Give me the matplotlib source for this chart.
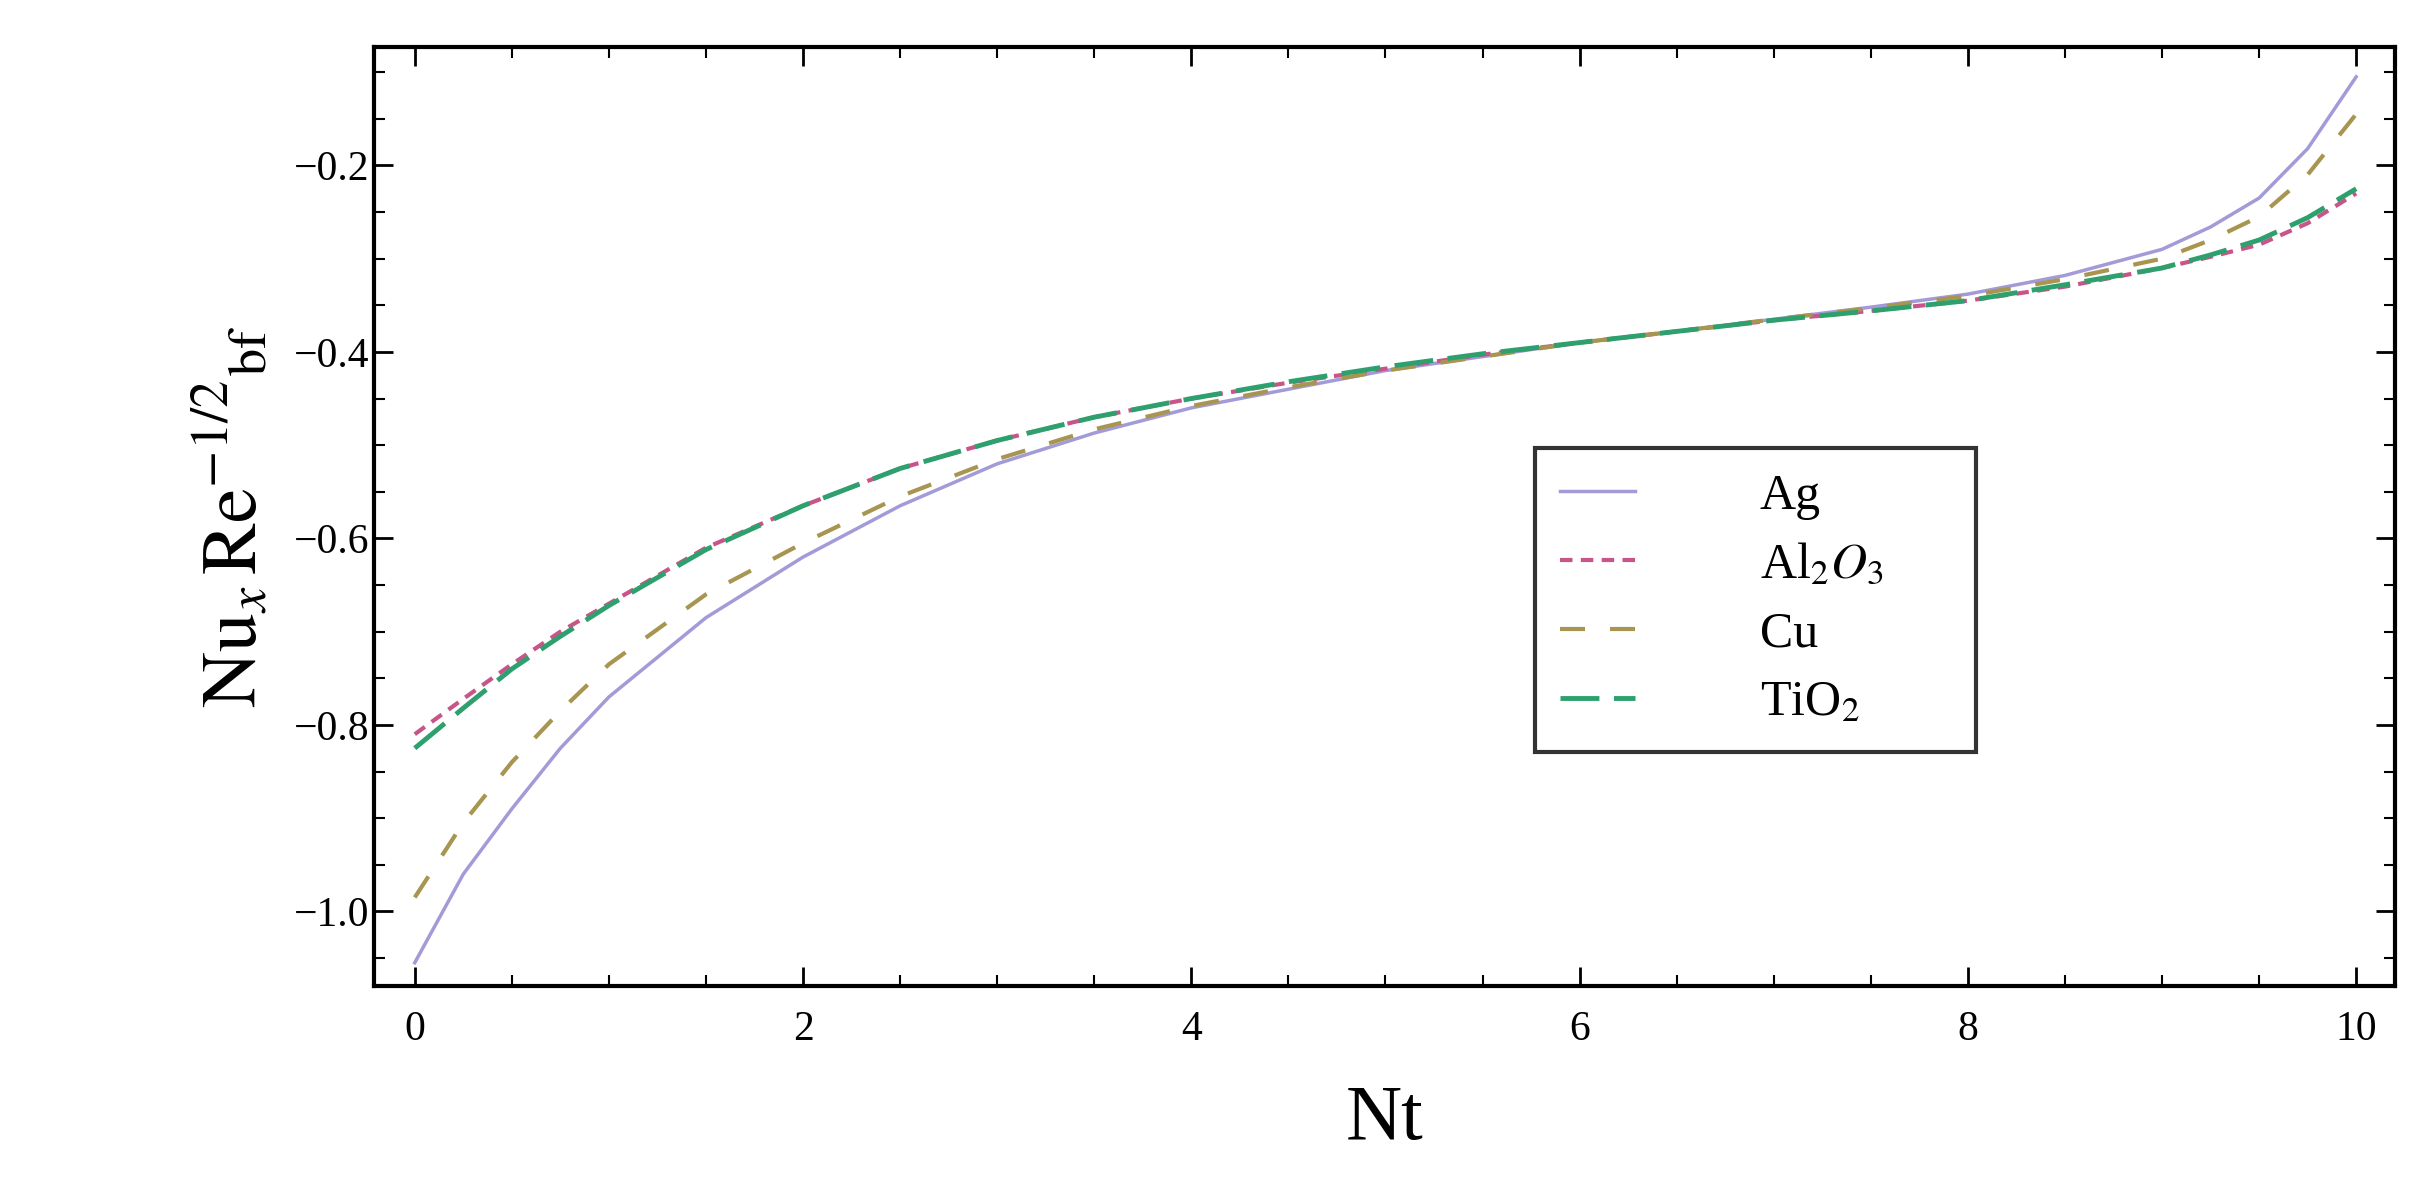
import matplotlib
matplotlib.use("Agg")
import matplotlib.pyplot as plt
from matplotlib.ticker import MultipleLocator

plt.rcParams['font.family'] = ['Liberation Serif', 'DejaVu Serif']
plt.rcParams['mathtext.fontset'] = 'stix'

nt = [0, 0.25, 0.5, 0.75, 1, 1.5, 2, 2.5, 3, 3.5, 4, 4.5, 5, 5.5, 6, 6.5, 7, 7.5, 8, 8.5, 9, 9.25, 9.5, 9.75, 10]
ag = [-1.055, -0.96, -0.89, -0.825, -0.77, -0.685, -0.62, -0.565, -0.52, -0.487, -0.46, -0.44, -0.42, -0.405, -0.39, -0.378, -0.365, -0.352, -0.338, -0.318, -0.29, -0.266, -0.235, -0.182, -0.105]
al2o3 = [-0.81, -0.772, -0.735, -0.70, -0.67, -0.61, -0.565, -0.525, -0.495, -0.47, -0.45, -0.433, -0.418, -0.403, -0.39, -0.378, -0.366, -0.356, -0.345, -0.33, -0.31, -0.298, -0.285, -0.262, -0.23]
cu = [-0.985, -0.905, -0.84, -0.785, -0.735, -0.66, -0.605, -0.555, -0.515, -0.483, -0.458, -0.438, -0.42, -0.405, -0.39, -0.378, -0.365, -0.353, -0.34, -0.322, -0.30, -0.28, -0.255, -0.21, -0.145]
tio2 = [-0.825, -0.782, -0.74, -0.705, -0.672, -0.612, -0.565, -0.525, -0.495, -0.47, -0.45, -0.432, -0.416, -0.402, -0.39, -0.378, -0.366, -0.356, -0.345, -0.328, -0.31, -0.296, -0.28, -0.256, -0.225]

fig = plt.figure(figsize=(24.33, 11.97), dpi=100)
ax = fig.add_axes([374/2433, 1 - 986/1197, (2395-374)/2433, (986-47)/1197])

ax.plot(nt, ag, color='#a29bd8', lw=2.5, ls='-', label='Ag')
ax.plot(nt, al2o3, color='#c8558a', lw=3, ls=(0, (3, 2)), label=r'Al$_2$$O_3$')
ax.plot(nt, cu, color='#a89550', lw=3, ls=(0, (6, 6)), label='Cu')
ax.plot(nt, tio2, color='#2ea06e', lw=3.5, ls=(0, (8, 3)), label=r'TiO$_2$')

ax.set_xlim(-0.21, 10.2)
ax.set_ylim(-1.08, -0.073)
ax.xaxis.set_major_locator(MultipleLocator(2))
ax.xaxis.set_minor_locator(MultipleLocator(0.5))
ax.yaxis.set_major_locator(MultipleLocator(0.2))
ax.yaxis.set_minor_locator(MultipleLocator(0.05))
ax.tick_params(which='both', direction='in', top=True, right=True, labelsize=30)
ax.tick_params(which='major', length=14, width=2)
ax.tick_params(which='minor', length=8, width=1.5)
ax.xaxis.set_major_formatter(matplotlib.ticker.FormatStrFormatter('%g'))
ax.yaxis.set_major_formatter(matplotlib.ticker.FuncFormatter(lambda v, p: '\u2212%.1f' % abs(v)))
ax.tick_params(axis='x', pad=18)
for s in ax.spines.values():
    s.set_linewidth(3)

ax.set_xlabel('Nt', fontsize=56, labelpad=25)
ax.set_ylabel(r'$\mathrm{Nu}_x\,\mathrm{Re}^{-1/2}{}_{\mathrm{bf}}$', fontsize=56, labelpad=15)

leg = ax.legend(loc='lower left', bbox_to_anchor=(0.562, 0.223, 0.243, 0.392), mode='expand',
                fontsize=36, frameon=True, fancybox=False, edgecolor='black',
                handlelength=1.5, handletextpad=2.5, borderpad=0.5, labelspacing=0.45)
leg.get_frame().set_linewidth(3)

fig.savefig('out.png', dpi=100)
